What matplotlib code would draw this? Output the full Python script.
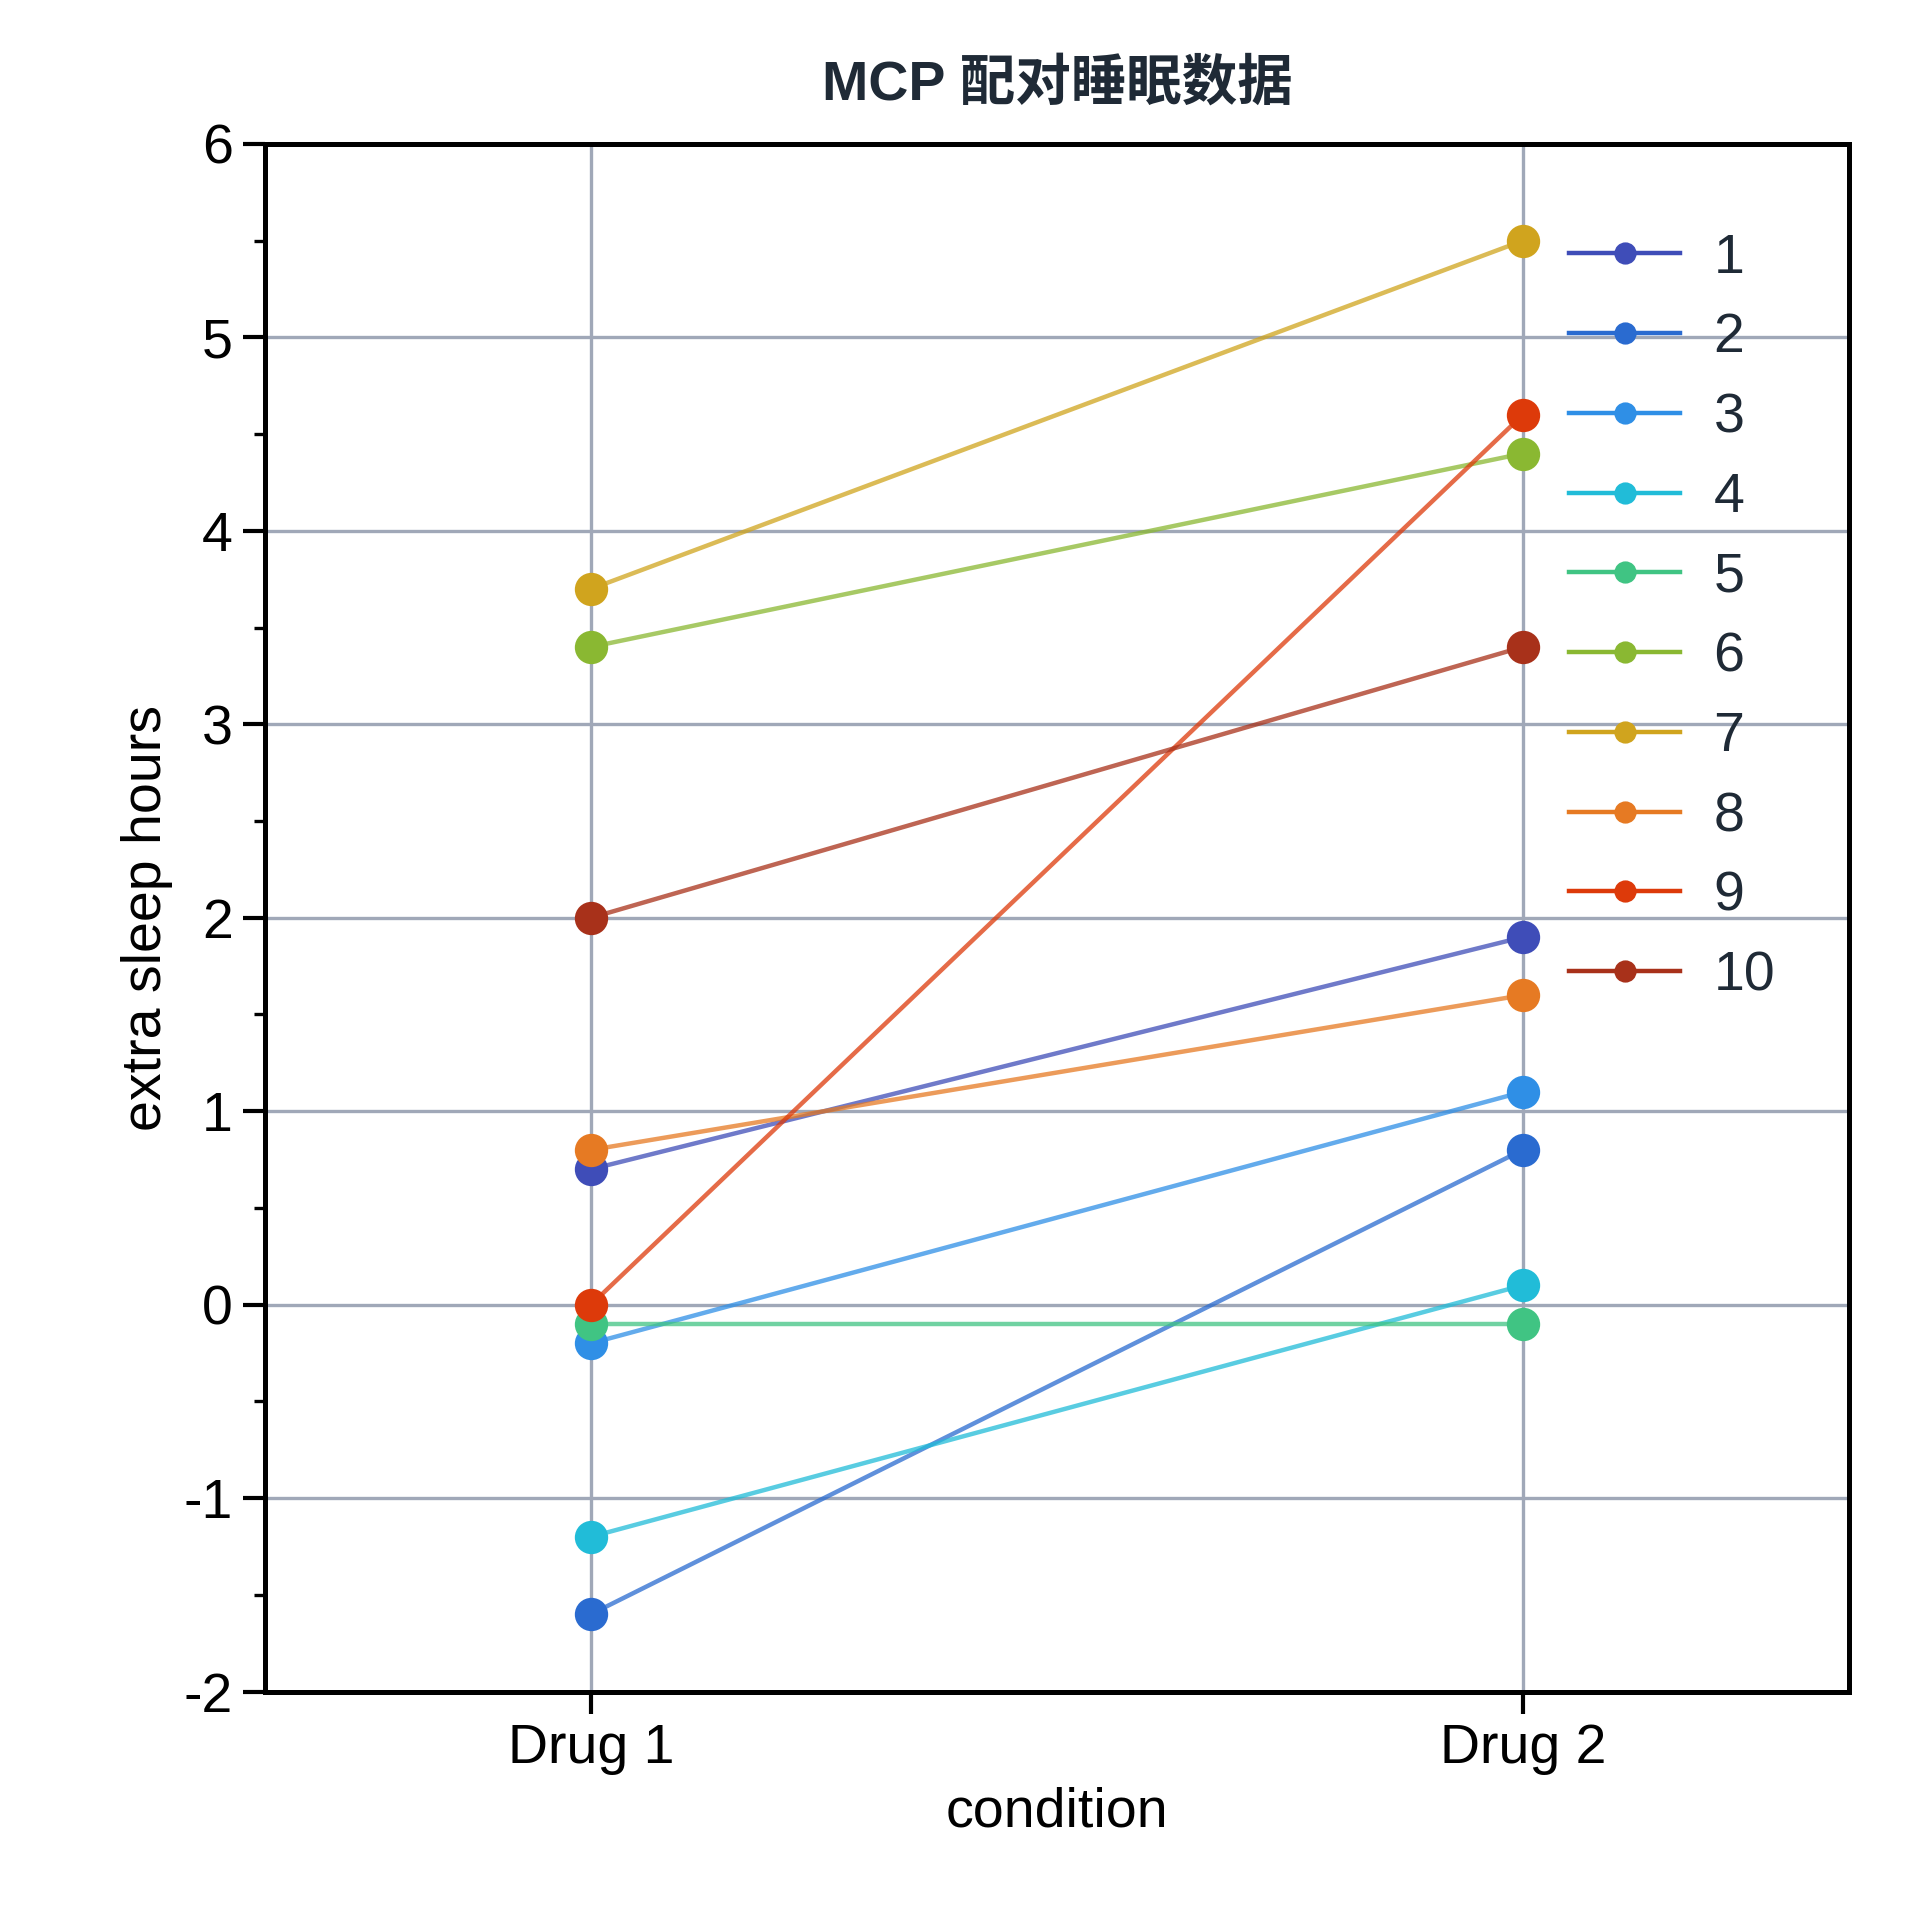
import matplotlib.pyplot as plt
from matplotlib.ticker import MultipleLocator

plt.rcParams['font.family'] = ['Arial', 'Liberation Sans', 'Noto Sans CJK SC', 'DejaVu Sans']
plt.rcParams['axes.unicode_minus'] = False

conditions = ["Drug 1", "Drug 2"]
subjects = ["1", "2", "3", "4", "5", "6", "7", "8", "9", "10"]
drug1 = [0.7, -1.6, -0.2, -1.2, -0.1, 3.4, 3.7, 0.8, 0.0, 2.0]
drug2 = [1.9, 0.8, 1.1, 0.1, -0.1, 4.4, 5.5, 1.6, 4.6, 3.4]
colors = ["#3f4db8", "#2a6bd0", "#2f8fe6", "#21bcd8", "#40c483",
          "#8ab832", "#d0a41e", "#e67a23", "#dd3a0a", "#a8311a"]

fig = plt.figure(figsize=(9.6, 9.6), dpi=200)
ax = fig.add_axes([0.138, 0.119, 0.825, 0.806])

for i, s in enumerate(subjects):
    ax.plot([0, 1], [drug1[i], drug2[i]], color=colors[i], alpha=0.75, lw=1.6, zorder=3)
    ax.plot([0, 1], [drug1[i], drug2[i]], color=colors[i], ls="none", marker="o",
            ms=11, zorder=4)
    ax.plot([], [], color=colors[i], marker="o", ms=7, lw=1.6, label=s)

ax.set_xlim(-0.35, 1.35)
ax.set_ylim(-2, 6)
ax.set_xticks([0, 1])
ax.set_xticklabels(conditions)
ax.yaxis.set_major_locator(MultipleLocator(1))
ax.yaxis.set_minor_locator(MultipleLocator(0.5))
ax.grid(True, color="#a0a8b8", lw=1.2, zorder=0)
ax.set_axisbelow(True)
for sp in ax.spines.values():
    sp.set_linewidth(1.8)
ax.tick_params(axis="both", labelsize=20, length=8, width=1.5)
ax.tick_params(axis="y", which="minor", length=4, width=1.2)
ax.set_xlabel("condition", fontsize=20)
ax.set_ylabel("extra sleep hours", fontsize=20)
ax.set_title("MCP 配对睡眠数据", fontsize=20, fontweight="bold", color="#1f2a36", pad=16)

leg = ax.legend(loc="upper right", frameon=False, fontsize=20, handlelength=2.0,
                handletextpad=0.6, labelspacing=0.5, bbox_to_anchor=(0.985, 0.975))
for t in leg.get_texts():
    t.set_color("#1f2a36")

fig.savefig("out.png", dpi=200)
